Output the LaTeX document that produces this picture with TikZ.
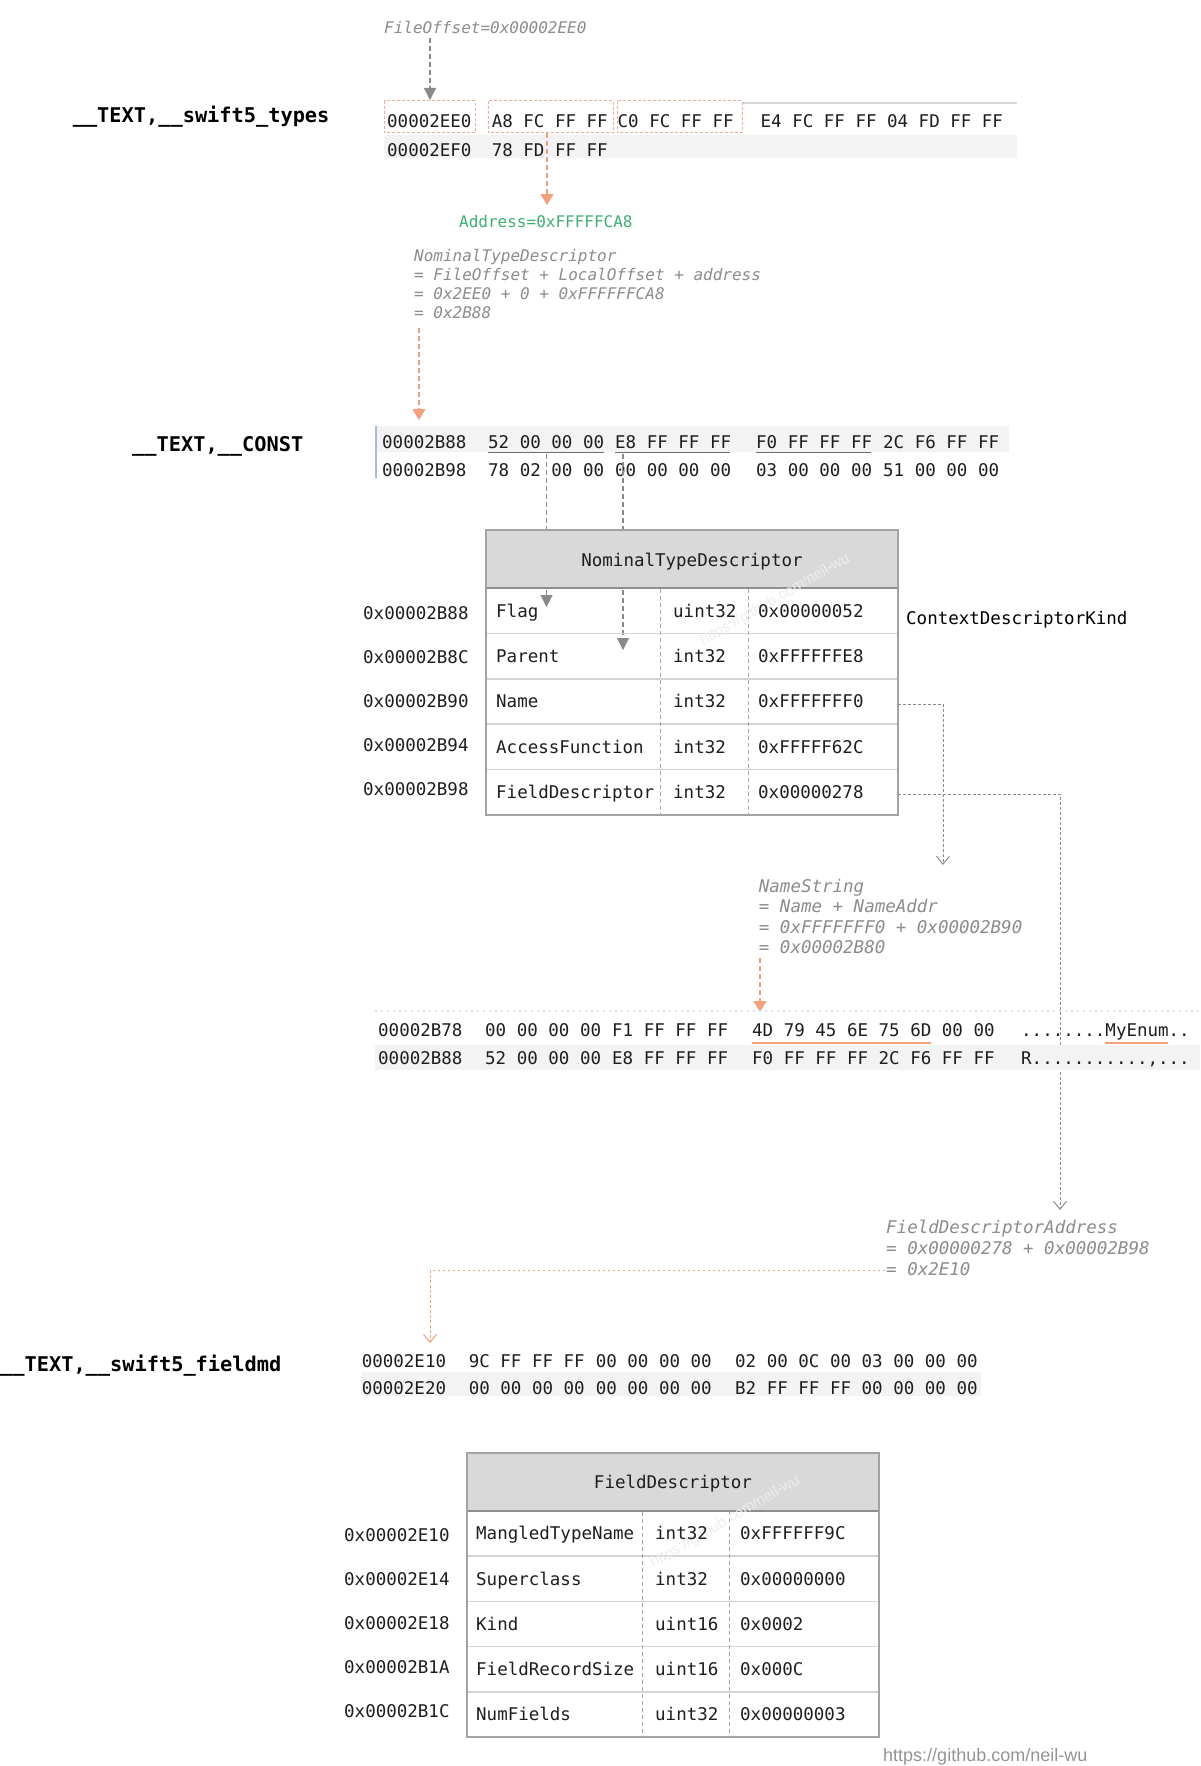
\documentclass[tikz,border=0pt]{standalone}
\usepackage{fontspec}
\newfontfamily\monof{DejaVu Sans Mono}
\newfontfamily\wmf{Liberation Sans}
\usetikzlibrary{arrows.meta}
\definecolor{txt}{HTML}{1E1E1E}
\definecolor{fgray}{HTML}{8C8C8C}
\definecolor{agreen}{HTML}{3FAE72}
\definecolor{sal}{HTML}{F2A07E}
\definecolor{salbox}{HTML}{F0AA98}
\definecolor{rowbg}{HTML}{F3F3F3}
\definecolor{hdrfill}{HTML}{D9D9D9}
\definecolor{tborder}{HTML}{A3A3A3}
\definecolor{hdrline}{HTML}{8E8E8E}
\definecolor{tsep}{HTML}{D4D4D4}
\definecolor{bline}{HTML}{A6B9E0}
\definecolor{ag}{HTML}{8A8A8A}
\definecolor{ulg}{HTML}{6E6E6E}
\definecolor{topline}{HTML}{D6D6D6}
\begin{document}
\begin{tikzpicture}[x=1pt,y=-1pt,
  hx/.style={font=\monof\fontsize{17.5}{20}\selectfont, text=txt, anchor=base west, inner sep=0pt},
  lbl/.style={font=\monof\bfseries\fontsize{20.3}{24}\selectfont, text=black, anchor=base west, inner sep=0pt},
  fml/.style={font=\monof\itshape\fontsize{16}{19}\selectfont, text=fgray, anchor=base west, inner sep=0pt},
  fmlb/.style={font=\monof\itshape\fontsize{17.5}{20}\selectfont, text=fgray, anchor=base west, inner sep=0pt},
  wm/.style={font=\wmf\fontsize{15}{18}\selectfont, text=black!7, inner sep=0pt},
  garr/.style={draw=ag, line width=1.1pt, dash pattern=on 5pt off 3pt, -{Triangle[width=12pt,length=12pt]}},
  oarr/.style={draw=sal, line width=1.1pt, dash pattern=on 5pt off 3pt, -{Triangle[width=13pt,length=11pt]}},
  darr/.style={draw=ag, line width=1pt, dash pattern=on 2.5pt off 2.5pt, -{Straight Barb[width=13pt,length=8pt]}},
  odarr/.style={draw=sal, line width=1pt, dash pattern=on 2.5pt off 2.5pt, -{Straight Barb[width=13pt,length=8pt]}},
  selbox/.style={draw=salbox, line width=1pt, dash pattern=on 3pt off 2pt},
  colsep/.style={draw=black!35, line width=0.8pt, dash pattern=on 4pt off 3pt},
  rowsep/.style={draw=tsep, line width=1.6pt},
]
\useasboundingbox (0,0) rectangle (1200,1766);
\fill[white] (0,0) rectangle (1200,1766);

% ================= __TEXT,__swift5_types =================
\node[lbl] (lbltypes) at (72.6,122.4) {\_\_TEXT,\_\_swift5\_types};
\node[fml] (fileoff) at (384,34) {FileOffset=0x00002EE0};

\fill[rowbg] (384,135) rectangle (1016.6,158);
\draw[topline, line width=2.2pt] (742,103) -- (1016.6,103);

\node[hx] (t1o) at (387,128) {00002EE0};
\node[hx] (t1a) at (491.6,128) {A8 FC FF FF};
\node[hx] (t1b) at (617.5,128) {C0 FC FF FF};
\node[hx] (t1c) at (760.5,128) {E4 FC FF FF 04 FD FF FF};
\node[hx] (t2o) at (387,156) {00002EF0};
\node[hx] (t2a) at (491.6,156) {78 FD FF FF};

\draw[selbox] (384,101) rectangle (475,133);
\draw[selbox] (488,101) rectangle (613,133);
\draw[selbox] (617,101) rectangle (742,133);

\coordinate (a1s) at (430,38);
\coordinate (a1e) at (430,100);
\draw[garr] (a1s) -- (a1e);

\coordinate (a2s) at (547,133);
\coordinate (a2e) at (547,205);
\draw[oarr] (a2s) -- (a2e);

\node[font=\monof\fontsize{16}{19}\selectfont, text=agreen, anchor=base west, inner sep=0pt] (addr) at (459,227) {Address=0xFFFFFCA8};

\node[fml] (f1a) at (414,261.8) {NominalTypeDescriptor};
\node[fml] (f1b) at (414,280.8) {= FileOffset + LocalOffset + address};
\node[fml] (f1c) at (414,299.8) {= 0x2EE0 + 0 + 0xFFFFFFCA8};
\node[fml] (f1d) at (414,318.8) {= 0x2B88};

\coordinate (a3s) at (419,328);
\coordinate (a3e) at (419,420);
\draw[oarr] (a3s) -- (a3e);

% ================= __TEXT,__CONST =================
\node[lbl] (lblconst) at (132,451.4) {\_\_TEXT,\_\_CONST};
\fill[rowbg] (376,426) rectangle (1009,452);
\draw[bline, line width=2pt] (376,426) -- (376,478);

\node[hx] (c1o) at (382,448) {00002B88};
\node[hx] (c1a) at (488,448) {52 00 00 00};
\node[hx] (c1b) at (615,448) {E8 FF FF FF};
\node[hx] (c1c) at (756,448) {F0 FF FF FF};
\node[hx] (c1d) at (883,448) {2C F6 FF FF};
\node[hx] (c2o) at (382,476) {00002B98};
\node[hx] (c2a) at (488,476) {78 02 00 00};
\node[hx] (c2b) at (615,476) {00 00 00 00};
\node[hx] (c2c) at (756,476) {03 00 00 00};
\node[hx] (c2d) at (883,476) {51 00 00 00};

\draw[ulg, line width=1pt] (488,452.8) -- (603.5,452.8);
\draw[ulg, line width=1pt] (615,452.8) -- (730,452.8);
\draw[ulg, line width=1pt] (756,452.8) -- (871,452.8);

% connectors from CONST bytes into the table (drawn before header fill)
\coordinate (a4s) at (546.5,454);
\coordinate (a4e) at (546.5,607);
\coordinate (a5s) at (623,454);
\coordinate (a5e) at (623,650);
\draw[garr] (a4s) -- (a4e);
\draw[garr] (a5s) -- (a5e);

% ================= NominalTypeDescriptor table =================
\fill[hdrfill] (486,530) rectangle (898,588);
\foreach \k in {1,...,4} {
  \draw[rowsep] (487,{588+45.4*\k}) -- (897,{588+45.4*\k});
}
\draw[colsep] (660,589) -- (660,815);
\draw[colsep] (748,589) -- (748,815);
\draw[hdrline, line width=2.6pt] (486,588) -- (898,588);
\draw[hdrline, line width=2.6pt] (486,530) -- (898,530);
\draw[tborder, line width=2pt] (486,530) rectangle (898,815);
\node[hx, anchor=base] (ntdh) at (692,566.3) {NominalTypeDescriptor};
\node[wm, rotate=30] (ntdwm) at (775,600) {https://github.com/neil-wu};

\foreach \i/\f/\t/\v/\a in {0/Flag/uint32/0x00000052/0x00002B88,
  1/Parent/int32/0xFFFFFFE8/0x00002B8C,
  2/Name/int32/0xFFFFFFF0/0x00002B90,
  3/AccessFunction/int32/0xFFFFF62C/0x00002B94,
  4/FieldDescriptor/int32/0x00000278/0x00002B98} {
  \node[hx] (ntdf\i) at (496,{588+45.4*(\i+0.5)+6.3}) {\f};
  \node[hx] (ntdt\i) at (673,{588+45.4*(\i+0.5)+6.3}) {\t};
  \node[hx] (ntdv\i) at (758,{588+45.4*(\i+0.5)+6.3}) {\v};
  \node[hx] (ntda\i) at (363,{613+44*\i+6.3}) {\a};
}
\node[hx, text=black] (ckind) at (906,624.3) {ContextDescriptorKind};

% right connectors
\coordinate (nameS) at (898,704);
\coordinate (nameC) at (943,704);
\coordinate (nameE) at (943,865);
\draw[darr] (nameS) -- (nameC) -- (nameE);
\coordinate (fdS) at (898,794);
\coordinate (fdC) at (1060,794);
\coordinate (fdE) at (1060,1210);
\draw[darr] (fdS) -- (fdC) -- (fdE);

% ================= NameString =================
\node[fmlb] (f2a) at (758.7,892.4) {NameString};
\node[fmlb] (f2b) at (758.7,912.8) {= Name + NameAddr};
\node[fmlb] (f2c) at (758.7,933.2) {= 0xFFFFFFF0 + 0x00002B90};
\node[fmlb] (f2d) at (758.7,953.6) {= 0x00002B80};

\coordinate (a6s) at (760,958);
\coordinate (a6e) at (760,1012);
\draw[oarr] (a6s) -- (a6e);

% ================= dump 00002B78 =================
\draw[black!12, line width=1.2pt, dash pattern=on 2pt off 4pt] (375,1011) -- (1200,1011);
\fill[rowbg] (375,1045) rectangle (1200,1070);
\node[hx] (m1o) at (378,1036) {00002B78};
\node[hx] (m1a) at (485,1036) {00 00 00 00};
\node[hx] (m1b) at (612,1036) {F1 FF FF FF};
\node[hx] (m1c) at (752,1036) {4D 79 45 6E};
\node[hx] (m1d) at (878.5,1036) {75 6D 00 00};
\node[hx] (m1s) at (1021,1036) {........MyEnum..};
\node[hx] (m2o) at (378,1064) {00002B88};
\node[hx] (m2a) at (485,1064) {52 00 00 00};
\node[hx] (m2b) at (612,1064) {E8 FF FF FF};
\node[hx] (m2c) at (752,1064) {F0 FF FF FF};
\node[hx] (m2d) at (878.5,1064) {2C F6 FF FF};
\node[hx] (m2s) at (1021,1064) {R...........,...};
\draw[sal, line width=2pt] (752,1042.5) -- (931,1042.5);
\draw[sal, line width=2pt] (1105,1042.5) -- (1168,1042.5);

% ================= FieldDescriptorAddress =================
\node[fmlb] (f3a) at (886,1233.6) {FieldDescriptorAddress};
\node[fmlb] (f3b) at (886,1254.2) {= 0x00000278 + 0x00002B98};
\node[fmlb] (f3c) at (886,1275.4) {= 0x2E10};
\coordinate (fdaS) at (885,1270);
\coordinate (fdaC) at (430,1270);
\coordinate (fdaE) at (430,1343);
\draw[odarr] (fdaS) -- (fdaC) -- (fdaE);

% ================= __TEXT,__swift5_fieldmd =================
\node[lbl] (lblfield) at (0,1371.4) {\_\_TEXT,\_\_swift5\_fieldmd};
\fill[rowbg] (361,1372) rectangle (981,1396);
\node[hx] (d1o) at (361.6,1367) {00002E10};
\node[hx] (d1a) at (468.6,1367) {9C FF FF FF};
\node[hx] (d1b) at (595.6,1367) {00 00 00 00};
\node[hx] (d1c) at (735,1367) {02 00 0C 00};
\node[hx] (d1d) at (861.5,1367) {03 00 00 00};
\node[hx] (d2o) at (361.6,1394) {00002E20};
\node[hx] (d2a) at (468.6,1394) {00 00 00 00};
\node[hx] (d2b) at (595.6,1394) {00 00 00 00};
\node[hx] (d2c) at (735,1394) {B2 FF FF FF};
\node[hx] (d2d) at (861.5,1394) {00 00 00 00};

% ================= FieldDescriptor table =================
\fill[hdrfill] (467,1453) rectangle (879,1511);
\foreach \k in {1,...,4} {
  \draw[rowsep] (468,{1511+45.2*\k}) -- (878,{1511+45.2*\k});
}
\draw[colsep] (642,1512) -- (642,1737);
\draw[colsep] (729,1512) -- (729,1737);
\draw[hdrline, line width=2.6pt] (467,1511) -- (879,1511);
\draw[hdrline, line width=2.6pt] (467,1453) -- (879,1453);
\draw[tborder, line width=2pt] (467,1453) rectangle (879,1737);
\node[hx, anchor=base] (fdh) at (673,1488.3) {FieldDescriptor};
\node[wm, rotate=30] (fdwm) at (725,1522) {https://github.com/neil-wu};

\foreach \i/\f/\t/\v/\a in {0/MangledTypeName/int32/0xFFFFFF9C/0x00002E10,
  1/Superclass/int32/0x00000000/0x00002E14,
  2/Kind/uint16/0x0002/0x00002E18,
  3/FieldRecordSize/uint16/0x000C/0x00002B1A,
  4/NumFields/uint32/0x00000003/0x00002B1C} {
  \node[hx] (fdf\i) at (476,{1511+45.2*(\i+0.5)+6.3}) {\f};
  \node[hx] (fdt\i) at (655,{1511+45.2*(\i+0.5)+6.3}) {\t};
  \node[hx] (fdv\i) at (740,{1511+45.2*(\i+0.5)+6.3}) {\v};
  \node[hx] (fda\i) at (344,{1535+44*\i+6.3}) {\a};
}

\node[font=\wmf\fontsize{18}{21}\selectfont, text=black!42, anchor=base west, inner sep=0pt] (credit) at (883,1761) {https://github.com/neil-wu};
\end{tikzpicture}
\end{document}
